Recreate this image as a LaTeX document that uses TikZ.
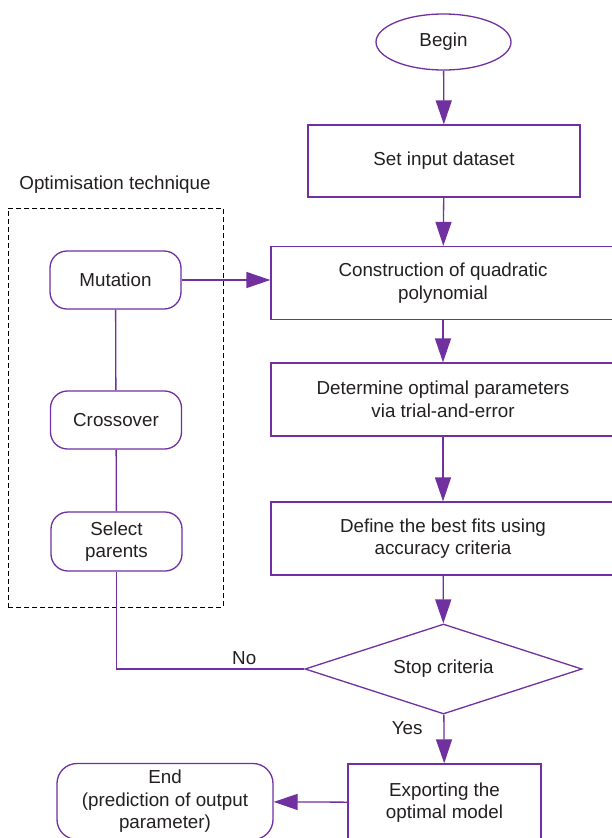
\documentclass[tikz,border=0pt]{standalone}
\usepackage{fontspec}
\setmainfont{Liberation Sans}
\usetikzlibrary{positioning,shapes.geometric,arrows.meta}
\definecolor{flowpurple}{HTML}{7030A0}
\definecolor{inkgrey}{HTML}{231F20}

\begin{document}
\begin{tikzpicture}[x=1pt, y=-1pt,
    font=\fontsize{18.8}{22.5}\selectfont, text=inkgrey,
    terminal/.style={ellipse, draw=flowpurple, line width=1.3pt, minimum width=135pt, minimum height=56pt, inner sep=0pt},
    process/.style={rectangle, draw=flowpurple, line width=1.3pt, align=center, inner sep=0pt, minimum height=73pt},
    opstep/.style={rectangle, draw=flowpurple, line width=1.3pt, align=center, inner sep=0pt, rounded corners=17pt, minimum width=131pt, minimum height=58pt},
    decision/.style={diamond, aspect=3.08, draw=flowpurple, line width=1.3pt, inner sep=0pt, minimum width=277pt, minimum height=90pt},
    groupbox/.style={rectangle, draw=black, line width=1pt, dash pattern=on 5pt off 3pt, inner sep=0pt},
    flow/.style={-{Triangle[length=24pt,width=16pt]}, draw=flowpurple, line width=1.3pt},
    link/.style={draw=flowpurple, line width=1.3pt}
]
    \useasboundingbox (0,0) rectangle (612,838);

    % Main flow
    \node [terminal] (begin) at (443.5,42) {Begin};
    \node [process, minimum width=272pt, minimum height=72pt] (input) at (444,161) {Set input dataset};
    \node [process, minimum width=344pt] (construct) at (443,283) {Construction of quadratic\\polynomial};
    \node [process, minimum width=344pt] (optimal) at (443,399.5) {Determine optimal parameters\\via trial-and-error};
    \node [process, minimum width=344pt] (bestfit) at (443,538.5) {Define the best fits using\\accuracy criteria};
    \node [decision] (stop) at (443.5,669) {Stop criteria};
    \node [process, minimum width=193pt, minimum height=77pt] (export) at (444.5,802.5) {Exporting the\\optimal model};
    \node [opstep, minimum width=216pt, minimum height=76pt, rounded corners=20pt] (finish) at (165,801.5) {End\\(prediction of output\\parameter)};

    % Optimisation technique
    \node [groupbox, minimum width=215pt, minimum height=399pt] (optbox) at (115.5,407.5) {};
    \node (opttitle) at (115,185) {Optimisation technique};
    \node [opstep] (mutation) at (115.5,280) {Mutation};
    \node [opstep] (crossover) at (116,420) {Crossover};
    \node [opstep, minimum height=59pt] (parents) at (116.5,541.5) {Select\\parents};

    % Connections
    \draw [flow] (begin) -- (input);
    \draw [flow] (input) -- (construct);
    \draw [flow] (construct) -- (optimal);
    \draw [flow] (optimal) -- (bestfit);
    \draw [flow] (bestfit) -- (stop);
    \draw [flow] (stop) -- node [left=17.5pt, pos=0.28] {Yes} (export);
    \draw [flow] (export) -- (finish);
    \draw [flow] (mutation.east) -- (mutation.east -| construct.west);
    \draw [link] (mutation) -- (crossover);
    \draw [link] (crossover) -- (parents);
    \draw [link] (parents.south) |- node [above, pos=0.84] {No} (stop.west);
\end{tikzpicture}
\end{document}
